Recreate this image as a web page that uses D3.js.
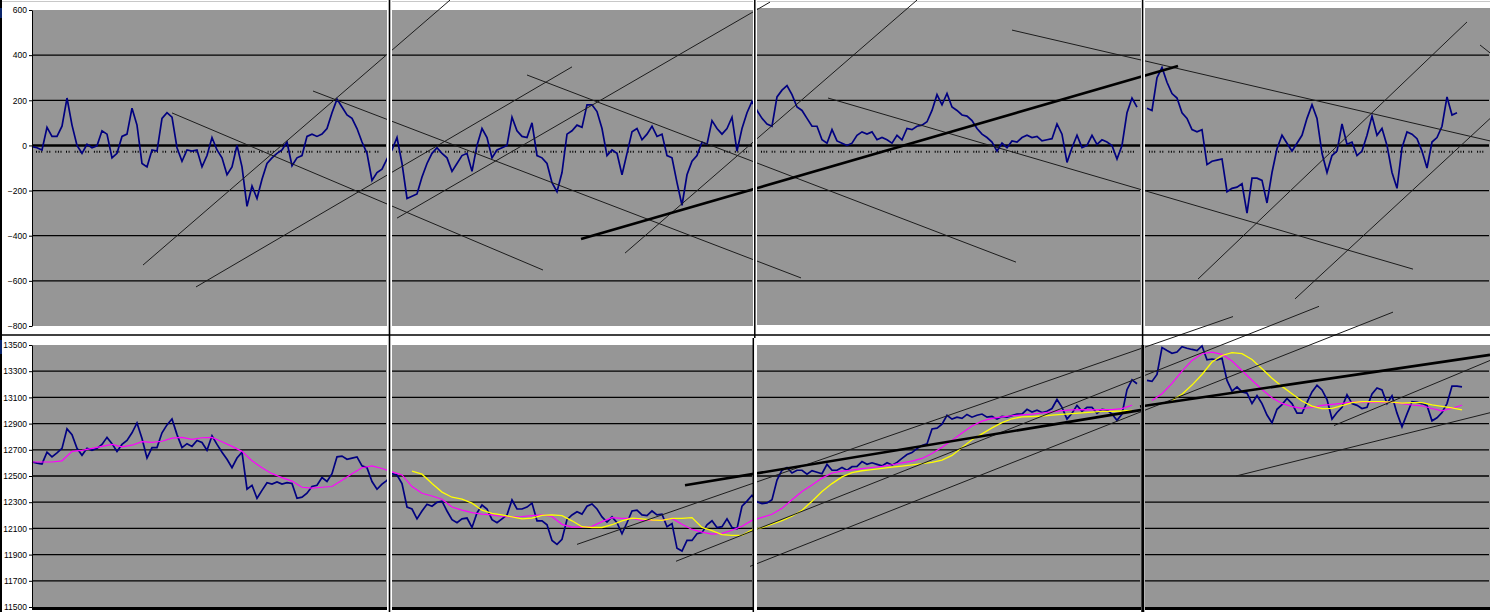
<!DOCTYPE html>
<html><head><meta charset="utf-8">
<script src="https://cdn.jsdelivr.net/npm/d3@7"></script>
<style>body{margin:0;background:#fff}svg{display:block}</style>
</head><body><svg id="c" width="1490" height="612"></svg>
<script>
// ---------- DATA ----------
const oscTicks = [600, 400, 200, 0, -200, -400, -600, -800];
const priceTicks = [13500, 13300, 13100, 12900, 12700, 12500, 12300, 12100, 11900, 11700, 11500];
const oscStep = 5;      // days between oscillator / price samples
const maStep = 10;      // days between moving-average samples
const signalLevel = -28;

// oscillator (top panel), one value every 5 days, null = gap between sheets
const osc = [
 -5,-10,-20,80,40,40,85,210,90,0,-35,5,-10,-2,65,50,-55,-35,40,50,165,90,-80,-95,-20,-25,120,145,125,-10,-70,-20,-25,-20,-95,-45,35,-20,-55,-130,-95,0,-95,-270,-180,-235,-150,-80,-55,-35,-20,15,-90,-55,-45,40,50,40,50,75,145,205,170,135,120,75,15,-35,-155,-120,-105,-60,
 -20,35,-80,-235,-225,-215,-140,-80,-35,-10,-35,-55,-115,-80,-45,-35,-115,0,75,35,-55,-20,-10,0,125,65,40,35,100,-45,-55,-80,-165,-205,-120,50,65,90,80,180,180,150,75,-45,-20,-35,-130,-35,60,75,25,50,85,40,50,-45,-55,-165,-265,-130,-70,-45,15,5,110,75,50,75,125,-25,75,145,195,
 155,120,95,85,215,245,265,225,170,155,120,85,85,25,10,70,20,10,0,10,45,60,50,60,25,35,25,10,45,25,75,70,85,90,105,155,225,180,230,170,155,135,130,110,75,50,35,15,-25,10,-10,20,15,35,45,35,40,20,25,30,95,50,-75,-10,45,-10,0,45,5,25,15,0,-60,0,145,210,170,
 null,
 165,155,300,345,280,230,210,145,120,70,60,70,-85,-70,-65,-60,-205,-190,-185,-170,-300,-145,-145,-155,-255,-120,-15,45,10,-25,10,45,120,180,120,-35,-120,-45,-25,95,5,15,-45,-25,45,130,45,75,0,-120,-190,-10,60,50,30,-25,-100,15,35,85,215,135,145
];

// price (bottom panel), one value every 5 days
const price = [
 12607,12598,12592,12682,12646,12676,12711,12860,12816,12711,12658,12711,12696,12711,12741,12795,12747,12688,12741,12771,12830,12905,12786,12637,12717,12717,12830,12890,12935,12816,12717,12747,12726,12771,12756,12696,12807,12741,12682,12628,12563,12637,12682,12399,12429,12330,12390,12449,12438,12455,12438,12449,12443,12330,12339,12369,12420,12429,12488,12458,12518,12646,12652,12628,12637,12646,12577,12563,12458,12399,12438,12467,
 12517,12508,12443,12263,12248,12173,12233,12284,12269,12299,12308,12233,12167,12143,12173,12179,12107,12218,12278,12248,12167,12143,12173,12203,12317,12248,12248,12263,12293,12158,12158,12128,12008,11978,12017,12167,12203,12227,12209,12269,12287,12248,12188,12149,12188,12143,12059,12143,12233,12239,12203,12197,12233,12203,12209,12113,12137,11948,11927,12008,12008,12059,12068,12128,12158,12107,12113,12173,12107,12098,12269,12308,12353,
 12304,12289,12295,12319,12469,12544,12565,12523,12544,12544,12514,12541,12529,12517,12589,12544,12544,12565,12544,12571,12574,12610,12589,12601,12589,12577,12601,12583,12604,12634,12664,12679,12709,12733,12745,12859,12865,12895,12964,12934,12949,12940,12970,12949,12964,12973,12949,12955,12934,12955,12949,12961,12973,12973,13009,12988,13003,12985,12994,13015,13084,13024,12934,12979,13039,12994,13024,13024,12979,13009,13003,12973,12925,12973,13159,13234,13204,
 null,
 13230,13222,13275,13481,13458,13437,13446,13487,13475,13466,13458,13493,13387,13393,13387,13399,13230,13148,13180,13142,13133,13053,13113,13053,12965,12906,13009,13045,13092,13053,12980,12980,13062,13142,13192,13157,13083,12935,12985,13024,13121,13053,13039,13015,13024,13127,13172,13157,13053,13113,12980,12876,12974,13068,13062,13053,13039,12921,12944,12985,13053,13186,13186,13180
];

// fast moving average (magenta), one value every 10 days
const maPink = [
 12607,12607,12607,12616,12688,12696,12711,12726,12741,12723,12735,12762,12756,12765,12789,12795,12780,12792,12795,12762,12726,12688,12616,12563,12518,12488,12461,12414,12408,12414,12420,12467,12518,12563,12577,12557,
 12532,12508,12419,12368,12347,12323,12263,12239,12221,12209,12203,12191,12188,12191,12197,12203,12191,12131,12110,12110,12116,12152,12182,12176,12176,12161,12161,12161,12176,12131,12092,12071,12056,12062,12086,12116,12161,
 12184,12208,12253,12319,12382,12431,12484,12523,12537,12546,12556,12565,12574,12586,12600,12613,12634,12672,12720,12772,12829,12882,12919,12940,12951,12960,12967,12973,12981,12990,12999,13005,13006,13005,13006,13006,13014,13040,
 null,
 13077,13128,13207,13300,13382,13433,13445,13428,13378,13305,13231,13160,13098,13054,13030,13017,13023,13039,13047,13054,13064,13065,13062,13065,13064,13052,13042,13036,13015,12997,13017,13040
];

// slow moving average (yellow), one value every 10 days
const maYellow = [
 null,null,null,null,null,null,null,null,null,null,null,null,null,null,null,null,null,null,null,null,null,null,null,null,null,null,null,null,null,null,null,null,null,null,null,null,
 null,null,
 12538,12514,12443,12377,12338,12323,12293,12239,12215,12203,12188,12173,12179,12200,12203,12197,12158,12113,12107,12107,12128,12158,12179,12173,12164,12161,12176,12176,12182,12107,12083,12053,12047,12047,12089,
 12105,12132,12160,12193,12238,12307,12382,12442,12493,12526,12540,12549,12558,12567,12576,12585,12594,12604,12622,12657,12717,12777,12822,12867,12907,12937,12951,12954,12958,12964,12970,12976,12982,12988,12993,12994,12996,13000,
 null,
 null,null,
 13077,13124,13194,13275,13370,13420,13442,13434,13390,13319,13246,13184,13128,13072,13033,13015,13016,13038,13060,13068,13068,13068,13064,13056,13060,13060,13043,13031,13020,13005
];

// trend lines: [day1, value1, day2, value2]
const oscTrends = [
 [111,-530,418,644],[164,-627,540,348],[140,144,511,-552],[281,241,769,-587],
 [495,312,984,-517],[796,210,1381,-548],[980,511,1458,20],[365,-322,738,635],
 [593,-477,885,644],[1166,-592,1435,547],[1263,-680,1458,119],[1448,445,1458,410]
];
const oscTrendsBold = [[549,-415,1146,352]];
const priceTrends = [
 [545,11978,1201,13717],[644,11849,1287,13795],[718,11810,1361,13751],
 [1204,12500,1458,12983],[1302,12885,1458,13382]
];
const priceTrendsBold = [[653,12430,1110,13005],[1108,13030,1458,13425]];

// ---------- LAYOUT ----------
const W = 1490, H = 612;
const segs = [
 {x0:32,  x1:387,  t0:10, t1:326, b0:345, b1:607},
 {x0:392, x1:753,  t0:10, t1:326, b0:345, b1:608},
 {x0:757, x1:1141, t0:8,  t1:325, b0:345, b1:609},
 {x0:1145,x1:1490, t0:8,  t1:326, b0:345, b1:610}
];
const GRAY = "#969696";

const svg = d3.select("#c");
const x = d3.scaleLinear().domain([0, 1458]).range([32, 1490]);
const yO = d3.scaleLinear().domain([-800, 600]).range([326, 10]);
const yP = d3.scaleLinear().domain([11500, 13500]).range([607, 345]);

svg.append("rect").attr("width", W).attr("height", H).attr("fill", "#fff");
svg.append("line").attr("x1",0).attr("x2",W).attr("y1",1.5).attr("y2",1.5).attr("stroke","#c8c8c8").attr("stroke-width",1);

const g = svg.append("g");
segs.forEach(s => {
  g.append("rect").attr("x", s.x0).attr("y", s.t0).attr("width", s.x1 - s.x0).attr("height", s.t1 - s.t0).attr("fill", GRAY);
  g.append("rect").attr("x", s.x0).attr("y", s.b0).attr("width", s.x1 - s.x0).attr("height", s.b1 - s.b0).attr("fill", GRAY);
  oscTicks.filter(v => v !== 600 && v !== -800).forEach(v => {
    g.append("line").attr("x1", s.x0).attr("x2", s.x1 - 1).attr("y1", yO(v)).attr("y2", yO(v))
      .attr("stroke", "#000").attr("stroke-width", v === 0 ? 2.6 : 1.3);
  });
  g.append("line").attr("x1", s.x0 + 4).attr("x2", s.x1 - 4).attr("y1", yO(signalLevel)).attr("y2", yO(signalLevel))
    .attr("stroke", "#000").attr("stroke-width", 2.2).attr("stroke-dasharray", "1,1.6,1,1.6,1,4.5,1,1.6,1,5");
  priceTicks.filter(v => v !== 13500 && v !== 11500).forEach(v => {
    g.append("line").attr("x1", s.x0).attr("x2", s.x1 - 1).attr("y1", yP(v)).attr("y2", yP(v))
      .attr("stroke", "#000").attr("stroke-width", 1.3);
  });
  g.append("line").attr("x1", s.x0).attr("x2", s.x1).attr("y1", yP(11500) + 1.5).attr("y2", yP(11500) + 1.5)
    .attr("stroke", "#000").attr("stroke-width", 3);
});

const lineO = d3.line().defined(d => d != null).x((d, i) => x(i * oscStep)).y(d => yO(d));
const lineP = d3.line().defined(d => d != null).x((d, i) => x(i * oscStep)).y(d => yP(d));
const lineMA = d3.line().defined(d => d != null).x((d, i) => x(i * maStep)).y(d => yP(d));

svg.append("path").attr("d", lineO(osc)).attr("fill", "none").attr("stroke", "#000080").attr("stroke-width", 1.7).attr("stroke-linejoin", "miter");
svg.append("path").attr("d", lineP(price)).attr("fill", "none").attr("stroke", "#000080").attr("stroke-width", 1.7).attr("stroke-linejoin", "miter");
svg.append("path").attr("d", lineMA(maPink)).attr("fill", "none").attr("stroke", "#ff00ff").attr("stroke-width", 1.2);
svg.append("path").attr("d", lineMA(maYellow)).attr("fill", "none").attr("stroke", "#ffff00").attr("stroke-width", 1.3);

function trends(list, ys, w, col) {
  svg.append("g").selectAll("line").data(list).join("line")
    .attr("x1", d => x(d[0])).attr("y1", d => ys(d[1]))
    .attr("x2", d => x(d[2])).attr("y2", d => ys(d[3]))
    .attr("stroke", col).attr("stroke-width", w);
}
trends(oscTrends, yO, 1, "#1c1c1c");
trends(oscTrendsBold, yO, 2.6, "#000");
trends(priceTrends, yP, 1, "#1c1c1c");
trends(priceTrendsBold, yP, 2.6, "#000");

const sep = svg.append("g");
sep.append("rect").attr("x", 387).attr("y", 0).attr("width", 5).attr("height", H).attr("fill", "#fff");
sep.append("rect").attr("x", 753).attr("y", 0).attr("width", 4).attr("height", H).attr("fill", "#fff");
sep.append("rect").attr("x", 1141).attr("y", 0).attr("width", 4).attr("height", H).attr("fill", "#fff");
[[389.5,0,H,1.6],[754.8,0,338,1.5],[753.3,338,H,1.5],[1142.6,0,H,1.5],[1142.8,345,H,3]].forEach(a => {
  sep.append("line").attr("x1", a[0]).attr("x2", a[0]).attr("y1", a[1]).attr("y2", a[2]).attr("stroke", "#000").attr("stroke-width", a[3]);
});
sep.append("line").attr("x1", 0).attr("x2", W).attr("y1", 335).attr("y2", 335).attr("stroke", "#000").attr("stroke-width", 1.3);
sep.append("line").attr("x1", 1).attr("x2", 1).attr("y1", 0).attr("y2", H).attr("stroke", "#000").attr("stroke-width", 2);
sep.append("rect").attr("x", 0).attr("y", 8).attr("width", 2).attr("height", 10).attr("fill", "#0a246a");
sep.append("rect").attr("x", 0).attr("y", 340).attr("width", 2).attr("height", 14).attr("fill", "#0a246a");

function styleAxis(sel) {
  sel.select(".domain").attr("stroke", "#000").attr("stroke-width", 1);
  sel.selectAll(".tick line").attr("stroke", "#000");
  sel.selectAll(".tick text").attr("fill", "#000").style("font-family", "'Liberation Sans', Arial, sans-serif").style("font-size", "8.5px");
}
svg.append("g").attr("transform", "translate(32,0)")
  .call(d3.axisLeft(yO).tickValues(oscTicks).tickSize(3).tickSizeOuter(0).tickPadding(2).tickFormat(d3.format("d")))
  .call(styleAxis);
svg.append("g").attr("transform", "translate(32,0)")
  .call(d3.axisLeft(yP).tickValues(priceTicks).tickSize(3).tickSizeOuter(0).tickPadding(2).tickFormat(d3.format("d")))
  .call(styleAxis);
</script>
</body></html>
